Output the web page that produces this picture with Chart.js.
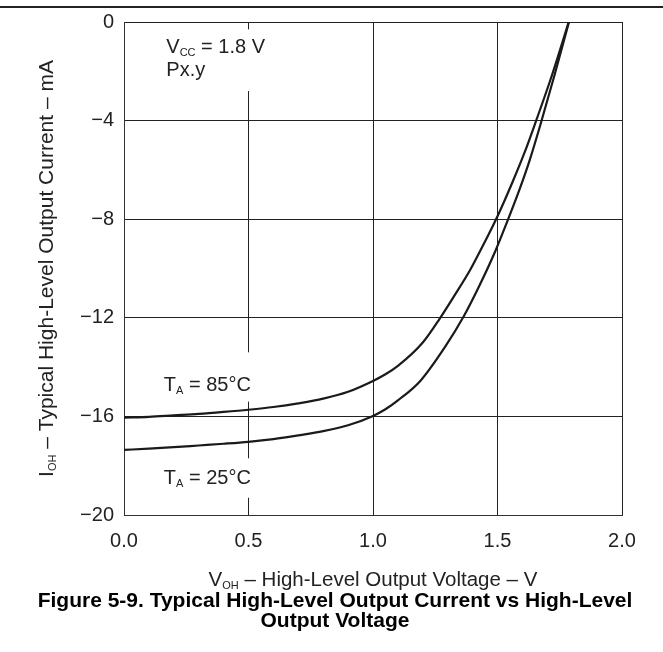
<!DOCTYPE html>
<html>
<head>
<meta charset="utf-8">
<script src="https://cdn.jsdelivr.net/npm/chart.js@4"></script>
<style>
  body { margin: 0; background: #fff; }
  canvas { display: block; }
</style>
</head>
<body>
<canvas id="ioh" width="663" height="652"></canvas>
<script>
// values
const voh85 = [0, 0.1, 0.2, 0.3, 0.4, 0.5, 0.6, 0.7, 0.8, 0.9, 1.0, 1.05, 1.1, 1.2, 1.27, 1.33, 1.39, 1.44, 1.5, 1.56, 1.61, 1.65, 1.72, 1.786]
const ioh85 = [-16.05, -16.02, -15.96, -15.9, -15.82, -15.73, -15.62, -15.47, -15.28, -15.0, -14.56, -14.29, -13.95, -13.0, -12.0, -11.05, -10.06, -9.1, -7.88, -6.5, -5.26, -4.15, -2.12, 0]

const voh25 = [0, 0.1, 0.2, 0.3, 0.4, 0.5, 0.6, 0.7, 0.8, 0.9, 1.0, 1.05, 1.1, 1.19, 1.29, 1.364, 1.431, 1.491, 1.535, 1.59, 1.63, 1.672, 1.73, 1.787]
const ioh25 = [-17.36, -17.31, -17.25, -17.18, -17.11, -17.03, -16.92, -16.77, -16.6, -16.36, -15.98, -15.71, -15.35, -14.56, -13.17, -11.95, -10.62, -9.3, -8.2, -6.75, -5.58, -4.18, -2.12, 0]

const xTicks = ['0.0', '0.5', '1.0', '1.5', '2.0']
const yTicks = ['−20', '−16', '−12', '−8', '−4', '0']

const FONT = "'Liberation Sans', Arial, sans-serif"
const INK = '#222'

const toPts = (xs, ys) => xs.map((x, i) => ({ x: x, y: ys[i] }))

// draw a line of text made of parts (for subscripts)
function drawParts(ctx, parts, x, y, align) {
  let total = 0
  parts.forEach(p => {
    ctx.font = (p.bold ? 'bold ' : '') + p.size + 'px ' + FONT
    p.w = ctx.measureText(p.t).width
    total += p.w
  })
  let cx = align === 'center' ? x - total / 2 : x
  ctx.textAlign = 'left'
  ctx.textBaseline = 'alphabetic'
  parts.forEach(p => {
    ctx.font = (p.bold ? 'bold ' : '') + p.size + 'px ' + FONT
    ctx.fillText(p.t, cx, y + (p.dy || 0))
    cx += p.w
  })
}

const labels = {
  id: 'labels',
  beforeDraw(chart) {
    const ctx = chart.ctx
    ctx.save()
    ctx.fillStyle = INK
    ctx.fillRect(0, 6, chart.width, 2)
    ctx.restore()
  },
  afterDraw(chart) {
    const ctx = chart.ctx
    const xs = chart.scales.x
    const ys = chart.scales.y
    const a = chart.chartArea
    ctx.save()

    // white boxes behind the notes
    ctx.fillStyle = '#fff'
    const box = (y1, y2) => {
      const l = xs.getPixelForValue(0.14), r = xs.getPixelForValue(0.57)
      const t = ys.getPixelForValue(y1), b = ys.getPixelForValue(y2)
      ctx.fillRect(l, t, r - l, b - t)
    }
    box(-0.3, -2.8)
    box(-13.4, -15.4)
    box(-17.7, -19.3)

    ctx.fillStyle = INK
    const lx = xs.getPixelForValue(0.17)
    drawParts(ctx, [{ t: 'V', size: 20 }, { t: 'CC', size: 11, dy: 3 }, { t: ' = 1.8 V', size: 20 }], lx, ys.getPixelForValue(-1.26))
    drawParts(ctx, [{ t: 'Px.y', size: 20 }], lx, ys.getPixelForValue(-2.2))
    const tx = xs.getPixelForValue(0.16)
    drawParts(ctx, [{ t: 'T', size: 20 }, { t: 'A', size: 11, dy: 3 }, { t: ' = 85°C', size: 20 }], tx, ys.getPixelForValue(-14.97))
    drawParts(ctx, [{ t: 'T', size: 20 }, { t: 'A', size: 11, dy: 3 }, { t: ' = 25°C', size: 20 }], tx, ys.getPixelForValue(-18.74))

    // axis titles
    drawParts(ctx, [{ t: 'V', size: 20.5 }, { t: 'OH', size: 11, dy: 3 }, { t: ' – High-Level Output Voltage – V', size: 20.5 }],
      (a.left + a.right) / 2, 586, 'center')

    ctx.save()
    ctx.translate(53, (a.top + a.bottom) / 2)
    ctx.rotate(-Math.PI / 2)
    drawParts(ctx, [{ t: 'I', size: 21 }, { t: 'OH', size: 11, dy: 3 }, { t: ' – Typical High-Level Output Current – mA', size: 21 }],
      0, 0, 'center')
    ctx.restore()

    // caption
    ctx.fillStyle = '#000'
    drawParts(ctx, [{ t: 'Figure 5-9. Typical High-Level Output Current vs High-Level', size: 21, bold: true }], 335, 607, 'center')
    drawParts(ctx, [{ t: 'Output Voltage', size: 21, bold: true }], 335, 627, 'center')
    ctx.restore()
  }
}

const curve = (pts) => ({
  data: pts,
  borderColor: '#1a1a1a',
  borderWidth: 2.2,
  pointRadius: 0,
  fill: false,
  cubicInterpolationMode: 'monotone'
})

new Chart(document.getElementById('ioh'), {
  type: 'line',
  data: {
    datasets: [
      curve(toPts(voh85, ioh85)),
      curve(toPts(voh25, ioh25))
    ]
  },
  options: {
    responsive: false,
    animation: false,
    devicePixelRatio: 1,
    layout: { padding: { top: 22, right: 41, left: 0, bottom: 0 } },
    plugins: { legend: { display: false }, tooltip: { enabled: false } },
    scales: {
      x: {
        type: 'linear',
        min: 0,
        max: 2,
        afterFit: s => { s.height = 137 },
        afterBuildTicks: s => { s.ticks = xTicks.map(t => ({ value: parseFloat(t) })) },
        ticks: {
          callback: (v, i) => xTicks[i],
          color: INK,
          font: { family: FONT, size: 20 },
          padding: 14,
          maxRotation: 0
        },
        grid: { color: INK, lineWidth: 1, drawTicks: false },
        border: { color: '#333', width: 1 }
      },
      y: {
        min: -20,
        max: 0,
        afterFit: s => { s.width = 124 },
        afterBuildTicks: s => { s.ticks = yTicks.map(t => ({ value: parseFloat(t.replace('−', '-')) })) },
        ticks: {
          callback: (v, i) => yTicks[i],
          color: INK,
          font: { family: FONT, size: 20 },
          padding: 10
        },
        grid: { color: INK, lineWidth: 1, drawTicks: false },
        border: { color: '#333', width: 1 }
      }
    }
  },
  plugins: [labels]
});
</script>
</body>
</html>
